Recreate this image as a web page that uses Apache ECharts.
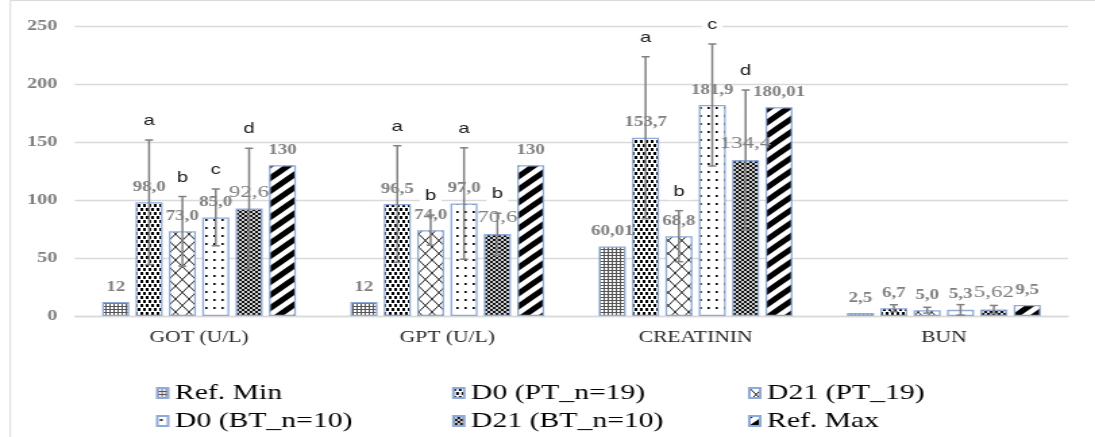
<!DOCTYPE html>
<html><head><meta charset="utf-8">
<script src="https://cdn.jsdelivr.net/npm/echarts@6/dist/echarts.min.js"></script>
<style>
html,body{margin:0;padding:0;background:#fff;overflow:hidden;}
#wrap{width:1095px;height:437px;overflow:hidden;}
#chart{width:811px;height:437px;transform:scaleX(1.35018);transform-origin:0 0;}
</style></head>
<body><div id="wrap"><div id="chart"></div></div>
<script>
// ---------- data ----------
const categories = ['GOT (U/L)', 'GPT (U/L)', 'CREATININ', 'BUN'];
const seriesNames = ['Ref. Min', 'D0 (PT_n=19)', 'D21 (PT_19)', 'D0 (BT_n=10)', 'D21 (BT_n=10)', 'Ref. Max'];
const refMin = [12, 12, 60.01, 2.5];
const d0PT   = [98.0, 96.5, 153.7, 6.7];
const d21PT  = [73.0, 74.0, 68.8, 5.0];
const d0BT   = [85.0, 97.0, 181.9, 5.3];
const d21BT  = [92.6, 70.6, 134.4, 5.62];
const refMax = [130, 130, 180.01, 9.5];
// standard deviations (error bars)
const errD0PT  = [53.7, 50.3, 69.8, 3.0];
const errD21PT = [30.0, 13.0, 22.0, 2.5];
const errD0BT  = [24.5, 48.0, 52.6, 4.5];
const errD21BT = [52.0, 18.0, 60.4, 3.5];
// significance letters
const letD0PT  = ['a', 'a', 'a', ''];
const letD21PT = ['b', 'b', 'b', ''];
const letD0BT  = ['c', 'a', 'c', ''];
const letD21BT = ['d', 'b', 'd', ''];
const yTicks = {min: 0, max: 250, interval: 50};

// ---------- patterns ----------
function pat(w, h, draw) {
  const c = document.createElement('canvas');
  c.width = w; c.height = h;
  const g = c.getContext('2d');
  g.fillStyle = '#fff'; g.fillRect(0, 0, w, h);
  draw(g, w, h);
  return {image: c, repeat: 'repeat'};
}
function xLines(g, w, h, color, lw) {
  g.strokeStyle = color; g.lineWidth = lw;
  for (const dx of [-w, 0, w]) {
    for (const dy of [-h, 0, h]) {
      g.beginPath(); g.moveTo(dx, dy); g.lineTo(dx + w, dy + h); g.stroke();
      g.beginPath(); g.moveTo(dx + w, dy); g.lineTo(dx, dy + h); g.stroke();
    }
  }
}
const patterns = [
  pat(3, 3, (g) => { g.fillStyle = '#555'; g.fillRect(0, 0, 3, 1); g.fillRect(0, 0, 1, 3); }),
  pat(4, 8, (g) => { g.fillStyle = '#000'; g.fillRect(0, 0, 2, 3); g.fillRect(2, 4, 2, 3); }),
  pat(10, 13, (g, w, h) => { xLines(g, w, h, '#222', 1); }),
  pat(6, 8, (g) => { g.fillStyle = '#000'; g.fillRect(2, 3, 1.6, 2); }),
  pat(4, 4, (g, w, h) => { g.fillStyle = '#111'; g.fillRect(0, 0, w, h); xLines(g, w, h, '#fff', 0.8); }),
  pat(14, 13, (g, w, h) => {
    g.strokeStyle = '#000'; g.lineWidth = 5;
    for (const dx of [-w, 0, w]) { g.beginPath(); g.moveTo(dx - 2, h + 2 * h / w); g.lineTo(dx + w + 2, -2 * h / w); g.stroke(); }
  })
];

const values = [refMin, d0PT, d21PT, d0BT, d21BT, refMax];
const BAR_W = 20, BAR_GAP = 0.235;
const PITCH = BAR_W * (1 + BAR_GAP);

const fmt = [
  v => String(v).replace('.', ','),
  v => v.toFixed(1).replace('.', ','),
  v => v.toFixed(1).replace('.', ','),
  v => v.toFixed(1).replace('.', ','),
  v => String(v).replace('.', ','),
  v => String(v).replace('.', ',')
];

const barSeries = values.map((arr, k) => ({
  name: seriesNames[k],
  type: 'bar',
  data: arr,
  barWidth: BAR_W,
  barGap: (BAR_GAP * 100) + '%',
  itemStyle: {color: patterns[k], borderColor: '#8eaadb', borderWidth: 1.3},
  label: {
    show: true, position: 'top', distance: 8,
    formatter: p => fmt[k](p.value),
    color: '#808080',
    fontFamily: 'Liberation Serif, Times New Roman, serif',
    fontWeight: k === 4 ? 'normal' : 'bold',
    fontSize: k === 4 ? 17 : 14
  },
  z: 2
}));

// error bar items
const errSets = [[1, d0PT, errD0PT, letD0PT], [2, d21PT, errD21PT, letD21PT], [3, d0BT, errD0BT, letD0BT], [4, d21BT, errD21BT, letD21BT]];
const errItems = [];
errSets.forEach(([k, v, e, l]) => {
  categories.forEach((c, i) => errItems.push({value: [i, v[i], e[i], k], letter: l[i]}));
});

const errSeries = {
  type: 'custom',
  name: 'err',
  data: errItems.map(d => d.value),
  z: 5,
  silent: true,
  renderItem: function (params, api) {
    const cat = api.value(0), v = api.value(1), e = api.value(2), k = api.value(3);
    const base = api.coord([cat, v]);
    const x = base[0] + (k - 2.5) * PITCH;
    const yT = api.coord([cat, v + e])[1];
    const yB = api.coord([cat, v - e])[1];
    const st = {stroke: '#808080', lineWidth: 1.5};
    const ch = [
      {type: 'line', shape: {x1: x, y1: yT, x2: x, y2: yB}, style: st},
      {type: 'line', shape: {x1: x - 3, y1: yT, x2: x + 3, y2: yT}, style: st},
      {type: 'line', shape: {x1: x - 3, y1: yB, x2: x + 3, y2: yB}, style: st}
    ];
    const letter = errItems[params.dataIndex].letter;
    if (letter) {
      ch.push({type: 'text', x: x, y: yT - 19, style: {
        text: letter, fill: '#1a1a1a', fontSize: 15, fontFamily: 'Liberation Sans, Arial, sans-serif',
        align: 'center', verticalAlign: 'middle', backgroundColor: '#fff', padding: [1, 4]
      }});
    }
    return {type: 'group', children: ch};
  }
};

const legFont = {fontFamily: 'Liberation Serif, Times New Roman, serif', fontSize: 22, color: '#000'};
const legLeft = [115.5, 334.8, 554];
const legTop = [382, 410];
const legends = seriesNames.map((n, k) => ({
  data: [n],
  left: legLeft[k % 3],
  top: legTop[Math.floor(k / 3)],
  itemWidth: 8, itemHeight: 10, icon: 'rect',
  textStyle: legFont, selectedMode: false, padding: 0
}));

const chart = echarts.init(document.getElementById('chart'), null, {renderer: 'canvas'});
chart.setOption({
  animation: false,
  backgroundColor: '#fff',
  grid: {left: 55.5, right: 20, top: 26, bottom: 121, containLabel: false},
  xAxis: {
    type: 'category', data: categories,
    axisLine: {lineStyle: {color: '#d9d9d9', width: 1.3}},
    axisTick: {show: false},
    axisLabel: {color: '#262626', fontSize: 16, fontFamily: 'Liberation Serif, Times New Roman, serif', margin: 14}
  },
  yAxis: {
    type: 'value', min: yTicks.min, max: yTicks.max, interval: yTicks.interval,
    axisLine: {show: false}, axisTick: {show: false},
    splitLine: {lineStyle: {color: '#d9d9d9', width: 1.3}},
    axisLabel: {color: '#808080', fontSize: 15, fontWeight: 'bold', fontFamily: 'Liberation Serif, Times New Roman, serif', margin: 13}
  },
  legend: legends,
  graphic: [{
    type: 'rect', left: 5.2, top: -2, silent: true,
    shape: {width: 804, height: 437.5},
    style: {fill: 'none', stroke: '#d9d9d9', lineWidth: 1}
  }],
  series: barSeries.concat([errSeries])
});
</script>
</body></html>
